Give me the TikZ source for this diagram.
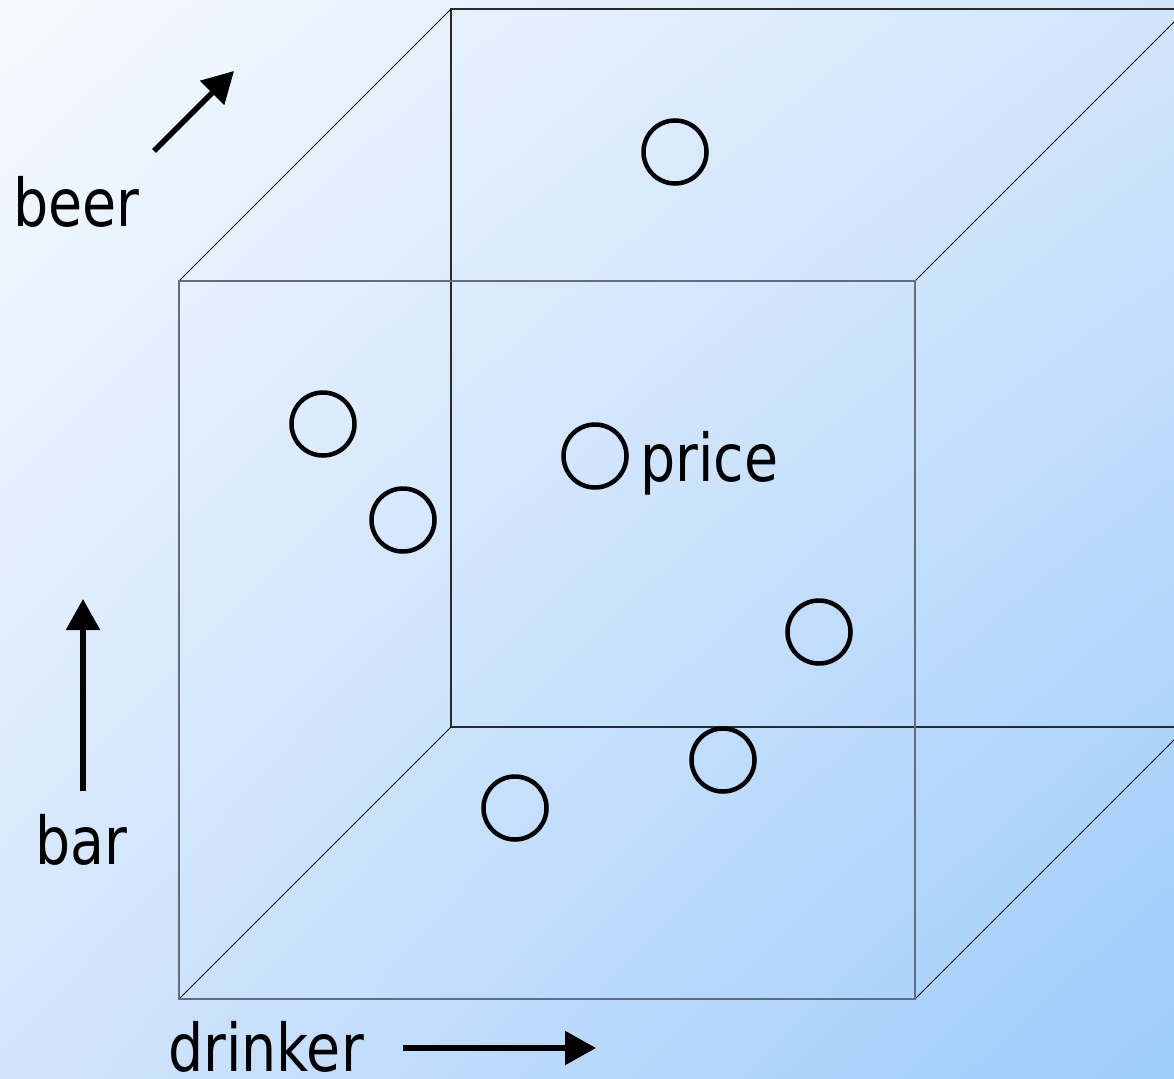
\documentclass[tikz,border=0pt]{standalone}
\usepackage{fontspec}
\setmainfont{DejaVu Sans}[FakeStretch=0.84]
\usetikzlibrary{arrows.meta,shadings}
\definecolor{bgTL}{HTML}{F6FAFF}
\definecolor{bgMid}{HTML}{D2E5FC}
\definecolor{bgBR}{HTML}{9DCCFB}
\definecolor{frontcol}{HTML}{646C7C}
\definecolor{backcol}{HTML}{2A2A2A}
\begin{document}
\begin{tikzpicture}[x=1pt,y=-1pt,
  frontedge/.style={draw=frontcol,line width=2pt},
  backedge/.style={draw=backcol,line width=1.2pt},
  depthedge/.style={draw=black,line width=0.9pt},
  dot/.style={circle,draw=black,line width=4.5pt,minimum size=63pt,inner sep=0pt},
  lbl/.style={inner sep=0pt,anchor=base west,font=\fontsize{66}{70}\selectfont},
  axisarrow/.style={line width=5.5pt,-{Triangle[length=31pt,width=33pt]}}]
\useasboundingbox (0,0) rectangle (1174,1078);
\shade[upper left=bgTL,lower right=bgBR,upper right=bgMid,lower left=bgMid] (0,0) rectangle (1174,1078);
% cube corners
\coordinate (f1) at (179,281);
\coordinate (f2) at (915,281);
\coordinate (f3) at (915,999);
\coordinate (f4) at (179,999);
\coordinate (b1) at (451,9);
\coordinate (b2) at (1187,9);
\coordinate (b3) at (1187,727);
\coordinate (b4) at (451,727);
\begin{scope}
\clip (0,0) rectangle (1174,1078);
\draw[backedge] (b1) -- (b2) -- (b3) -- (b4) -- cycle;
\draw[depthedge] (f1) -- (b1);
\draw[depthedge] (f2) -- (b2);
\draw[depthedge] (f3) -- (b3);
\draw[depthedge] (f4) -- (b4);
\draw[frontedge] (f1) -- (f2) -- (f3) -- (f4) -- cycle;
\end{scope}
% data points
\node[dot] (p1) at (675,152) {};
\node[dot] (p2) at (323,424) {};
\node[dot] (p3) at (403,520) {};
\node[dot] (p4) at (595,456) {};
\node[dot] (p5) at (819,632) {};
\node[dot] (p6) at (723,760) {};
\node[dot] (p7) at (515,808) {};
\node[lbl] (price) at (640,481) {price};
% axis labels
\node[lbl] (beer) at (13,226) {beer};
\node[lbl] (bar) at (35,864) {bar};
\node[lbl] (drinker) at (168,1071) {drinker};
\coordinate (beerS) at (154,151);
\coordinate (beerE) at (234,71);
\coordinate (barS) at (83,791);
\coordinate (barE) at (83,599);
\coordinate (drS) at (403,1048);
\coordinate (drE) at (596,1048);
\draw[axisarrow] (beerS) -- (beerE);
\draw[axisarrow] (barS) -- (barE);
\draw[axisarrow] (drS) -- (drE);
\end{tikzpicture}
\end{document}
